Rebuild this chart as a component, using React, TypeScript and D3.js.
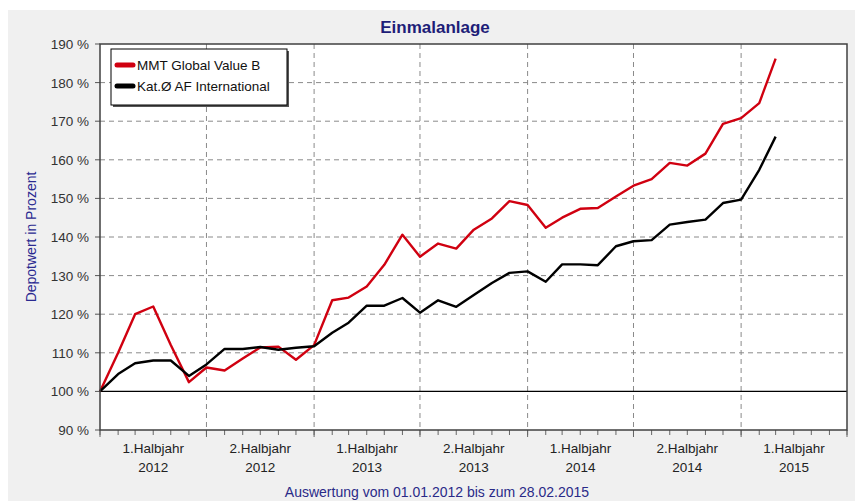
import React from 'react';
import * as d3 from 'd3';

// monthly values, Jan 2012 .. Feb 2015
const mmtValues = [
  100, 110, 120, 122, 112, 102.4, 106.2, 105.4, 108.5, 111.4, 111.6, 108.2, 112,
  123.6, 124.3, 127.2, 132.8, 140.6, 134.9, 138.3, 137, 141.9, 144.8, 149.3, 148.3,
  142.4, 145, 147.3, 147.5, 150.5, 153.3, 155, 159.2, 158.5, 161.6, 169.3, 170.8, 174.7, 186.2,
];
const katValues = [
  100, 104.5, 107.3, 108, 108, 104, 107, 111, 111, 111.5, 110.8, 111.3, 111.7,
  115.2, 117.8, 122.2, 122.2, 124.2, 120.4, 123.6, 121.9, 125, 128.1, 130.7, 131.1,
  128.4, 132.9, 132.9, 132.7, 137.6, 138.9, 139.2, 143.2, 143.9, 144.5, 148.8, 149.7, 157.4, 166,
];
const seriesNames = ['MMT Global Value B', 'Kat.Ø AF International'];
const seriesColors = ['#d00010', '#000000'];
const yTicks = [90, 100, 110, 120, 130, 140, 150, 160, 170, 180, 190];
const halfYearLabels = [
  ['1.Halbjahr', '2012'],
  ['2.Halbjahr', '2012'],
  ['1.Halbjahr', '2013'],
  ['2.Halbjahr', '2013'],
  ['1.Halbjahr', '2014'],
  ['2.Halbjahr', '2014'],
  ['1.Halbjahr', '2015'],
];

const startDate = new Date(2012, 0, 1);
const endDate = new Date(2015, 6, 1);

export default function App() {
  const left = 100;
  const right = 847;
  const top = 44;
  const bottom = 430;

  const x = d3.scaleTime().domain([startDate, endDate]).range([left, right]);
  const y = d3.scaleLinear().domain([90, 190]).range([bottom, top]);

  const months = d3.timeMonth.range(startDate, d3.timeMonth.offset(endDate, 1));
  const halfYears = d3.timeMonth.every(6)!.range(startDate, d3.timeMonth.offset(endDate, 1));
  const dataDates = months.slice(0, mmtValues.length);

  const line = d3
    .line<number>()
    .x((_, i) => x(dataDates[i]))
    .y((d) => y(d));

  const series = [mmtValues, katValues];
  const font = '"Liberation Sans", Arial, sans-serif';

  return (
    <svg
      width={855}
      height={501}
      style={{ position: 'absolute', left: 0, top: 0, fontFamily: font }}
    >
      <rect x={8} y={10} width={847} height={491} fill="#f0f0f0" />
      <text x={435} y={33} textAnchor="middle" fontSize={17} fontWeight="bold" fill="#1e1e78">
        Einmalanlage
      </text>

      <rect x={left} y={top} width={right - left} height={bottom - top} fill="#ffffff" />

      {/* horizontal grid */}
      {yTicks
        .filter((t) => t > 90 && t < 190 && t !== 100)
        .map((t) => (
          <line
            key={'h' + t}
            x1={left}
            x2={right}
            y1={y(t)}
            y2={y(t)}
            stroke="#8a8a8a"
            strokeDasharray="5,4"
          />
        ))}
      {/* vertical grid */}
      {halfYears.slice(1, -1).map((d, i) => (
        <line
          key={'v' + i}
          x1={x(d)}
          x2={x(d)}
          y1={top}
          y2={bottom}
          stroke="#8a8a8a"
          strokeDasharray="5,4"
        />
      ))}
      <line x1={left} x2={right} y1={y(100)} y2={y(100)} stroke="#000" strokeWidth={1.2} />

      {/* y ticks */}
      {yTicks.map((t) => (
        <g key={'y' + t}>
          <line x1={left - 5} x2={left} y1={y(t)} y2={y(t)} stroke="#555" />
          <text x={left - 11} y={y(t) + 5} textAnchor="end" fontSize={13.5} fill="#333">
            {t} %
          </text>
        </g>
      ))}

      {/* x ticks */}
      {months.map((d, i) => (
        <line key={'m' + i} x1={x(d)} x2={x(d)} y1={bottom} y2={bottom + 5} stroke="#666" />
      ))}
      {halfYears.map((d, i) => (
        <line key={'hy' + i} x1={x(d)} x2={x(d)} y1={bottom} y2={bottom + 7} stroke="#666" />
      ))}
      {halfYearLabels.map((lab, i) => {
        const cx = (x(halfYears[i]) + x(halfYears[i + 1])) / 2;
        return (
          <g key={'xl' + i}>
            <text x={cx} y={453} textAnchor="middle" fontSize={13.5} fill="#222">
              {lab[0]}
            </text>
            <text x={cx} y={472} textAnchor="middle" fontSize={13.5} fill="#222">
              {lab[1]}
            </text>
          </g>
        );
      })}

      {/* lines */}
      {series.map((s, i) => (
        <path
          key={'s' + i}
          d={line(s) || ''}
          fill="none"
          stroke={seriesColors[i]}
          strokeWidth={2.4}
          strokeLinejoin="round"
        />
      ))}

      <rect
        x={left}
        y={top}
        width={right - left}
        height={bottom - top}
        fill="none"
        stroke="#404040"
        strokeWidth={1.5}
      />

      {/* legend */}
      <rect x={113} y={51} width={176} height={56} fill="#555" />
      <rect x={111} y={49} width={176} height={56} fill="#fff" stroke="#000" strokeWidth={1} />
      {seriesNames.map((n, i) => (
        <g key={'lg' + i}>
          <line
            x1={117}
            x2={133}
            y1={65 + i * 21}
            y2={65 + i * 21}
            stroke={seriesColors[i]}
            strokeWidth={5}
            strokeLinecap="round"
          />
          <text x={137} y={70 + i * 21} fontSize={13.5} fill="#111">
            {n}
          </text>
        </g>
      ))}

      <text
        transform={`translate(36,${(top + bottom) / 2}) rotate(-90)`}
        textAnchor="middle"
        fontSize={14}
        fill="#2a2a90"
      >
        Depotwert in Prozent
      </text>
      <text x={437} y={497} textAnchor="middle" fontSize={14} fill="#2a2a88">
        Auswertung vom 01.01.2012 bis zum 28.02.2015
      </text>
    </svg>
  );
}
